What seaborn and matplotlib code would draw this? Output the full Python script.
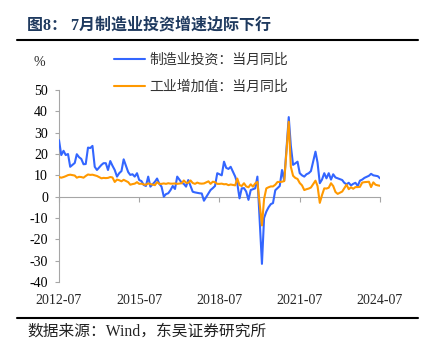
import numpy as np
import pandas as pd
import matplotlib
matplotlib.use("Agg")
import matplotlib.pyplot as plt
import seaborn as sns
from matplotlib.lines import Line2D

# ---------------- data (monthly YoY %, January not published) ----------------
invest_2012 = [26.5, 19.5, 21.5, 19.5, 20.0, 14.0]
invest_2013 = [15.8, 19.9, 18.5, 17.7, 15.2, 15.3, 23.0, 22.8, 23.8, 14.0, 12.5]
invest_2014 = [14.9, 15.7, 15.7, 12.5, 16.7, 14.5, 12.5, 9.4, 11.0, 12.0, 17.5]
invest_2015 = [11.5, 10.2, 10.5, 9.4, 11.0, 7.8, 7.3, 5.5, 5.0, 9.4, 4.7]
invest_2016 = [7.0, 8.5, 6.0, 4.7, 0.0, 1.2, 1.6, 3.1, 5.0, 3.6, 9.4]
invest_2017 = [6.5, 6.0, 4.7, 7.8, 5.0, 2.3, 2.0, 1.8, 1.6, 1.5, -1.9]
invest_2018 = [1.6, 3.1, 4.0, 5.0, 11.0, 10.5, 10.0, 16.4, 13.5, 13.0, 14.0]
invest_2019 = [9.4, 6.3, -0.8, 3.9, 4.0, 2.4, -1.5, 3.1, 3.5, 3.9, 9.4]
invest_2020 = [-31.5, -10.0, -7.0, -5.0, -3.5, -3.0, 3.0, 4.0, 5.0, 12.5, 7.5]
invest_2021 = [37.3, 24.0, 14.9, 15.6, 16.4, 11.0, 10.0, 9.4, 10.5, 11.0, 12.0]
invest_2022 = [21.1, 16.0, 6.3, 8.0, 11.0, 8.6, 11.0, 8.0, 10.5, 9.0, 8.6]
invest_2023 = [7.8, 6.5, 5.8, 6.5, 5.3, 6.0, 6.5, 5.0, 7.5, 8.0, 8.8]
invest_2024 = [9.8, 10.7, 10.0, 9.8, 9.6, 8.6]

iva_2012 = [9.2, 8.9, 9.2, 9.6, 10.1, 10.3]
iva_2013 = [9.9, 8.9, 9.3, 9.2, 8.9, 9.7, 10.4, 10.2, 10.3, 10.0, 9.7]
iva_2014 = [8.6, 8.8, 8.7, 8.8, 9.2, 9.0, 6.9, 8.0, 7.7, 7.2, 7.9]
iva_2015 = [6.8, 5.6, 5.9, 6.1, 6.8, 6.0, 6.1, 5.7, 5.6, 6.2, 5.9]
iva_2016 = [5.4, 6.8, 6.0, 6.0, 6.2, 6.0, 6.3, 6.1, 6.1, 6.2, 6.0]
iva_2017 = [6.3, 7.6, 6.5, 6.5, 7.6, 6.4, 6.0, 6.6, 6.2, 6.1, 6.2]
iva_2018 = [7.2, 6.0, 7.0, 6.8, 6.0, 6.0, 6.1, 5.8, 5.9, 5.4, 5.7]
iva_2019 = [5.3, 8.5, 5.4, 5.0, 6.3, 4.8, 4.4, 5.8, 4.7, 6.2, 6.9]
iva_2020 = [-13.5, -1.1, 3.9, 4.4, 4.8, 4.8, 5.6, 6.9, 6.9, 7.0, 7.3]
iva_2021 = [35.1, 14.1, 9.8, 8.8, 8.3, 6.4, 5.3, 3.1, 3.5, 3.8, 4.3]
iva_2022 = [7.5, 5.0, -2.9, 0.7, 3.9, 3.8, 4.2, 6.3, 5.0, 2.2, 1.3]
iva_2023 = [2.4, 3.9, 5.6, 3.5, 4.4, 3.7, 4.5, 4.5, 4.6, 6.6, 6.8]
iva_2024 = [7.0, 4.5, 6.7, 5.6, 5.3, 5.1]

series_names = ["制造业投资：当月同比", "工业增加值：当月同比"]
colors = ["#3366FF", "#FF9900"]
tick_labels = ["2012-07", "2015-07", "2018-07", "2021-07", "2024-07"]
yticks = list(range(-40, 51, 10))

invest = (invest_2012 + invest_2013 + invest_2014 + invest_2015 + invest_2016 +
          invest_2017 + invest_2018 + invest_2019 + invest_2020 + invest_2021 +
          invest_2022 + invest_2023 + invest_2024)
iva = (iva_2012 + iva_2013 + iva_2014 + iva_2015 + iva_2016 + iva_2017 +
       iva_2018 + iva_2019 + iva_2020 + iva_2021 + iva_2022 + iva_2023 + iva_2024)

dates = pd.date_range("2012-07-01", "2024-07-01", freq="MS")
dates = dates[dates.month != 1]

df = pd.concat([
    pd.DataFrame({"date": dates, "value": invest, "series": series_names[0]}),
    pd.DataFrame({"date": dates, "value": iva, "series": series_names[1]}),
], ignore_index=True)

# ---------------- figure ----------------
sns.set_style("white")
plt.rcParams["font.family"] = ["Liberation Serif", "Noto Sans CJK SC"]

W, H = 427, 346
fig = plt.figure(figsize=(W / 100, H / 100), dpi=100)
ax = fig.add_axes([59 / W, 1 - 282 / H, (380 - 59) / W, (282 - 90) / H])

sns.lineplot(data=df, x="date", y="value", hue="series", hue_order=series_names,
             palette=colors, linewidth=1.5, ax=ax, legend=False, zorder=3)

tick_dates = pd.to_datetime(tick_labels)
ax.set_xlim(pd.Timestamp("2012-07-01"), pd.Timestamp("2024-07-01"))
ax.set_ylim(-40, 50)
ax.set_yticks(yticks)
ax.set_yticklabels([str(v) for v in yticks], fontsize=10, family="Liberation Serif")
ax.set_xlabel("")
ax.set_ylabel("")

spine_color = "#A6A6A6"
for s in ["top", "right"]:
    ax.spines[s].set_visible(False)
ax.spines["left"].set_color(spine_color)
ax.spines["left"].set_linewidth(0.8)
ax.spines["left"].set_zorder(1)
ax.spines["bottom"].set_position(("data", 0))
ax.spines["bottom"].set_color(spine_color)
ax.spines["bottom"].set_linewidth(0.8)
ax.spines["bottom"].set_zorder(1)

ax.set_xticks(tick_dates)
ax.set_xticklabels([""] * len(tick_dates))
ax.tick_params(axis="x", direction="out", length=3.5, width=0.8, color=spine_color, bottom=True)
ax.tick_params(axis="y", direction="out", length=3, width=0.8, color=spine_color, left=True,
               pad=5, labelcolor="black")

sec = ax.secondary_xaxis("bottom")
sec.set_xticks(tick_dates)
sec.set_xticklabels(tick_labels, fontsize=10, family="Liberation Serif")
sec.tick_params(length=0, pad=9)
sec.spines["bottom"].set_visible(False)

# legend
handles = [Line2D([0], [0], color=c, lw=1.5) for c in colors]
fig.legend(handles, series_names, loc="upper left", bbox_to_anchor=(114 / W, 1 - 53 / H),
           frameon=False, borderpad=0, borderaxespad=0, handlelength=2.2,
           handletextpad=0.35, labelspacing=0.9,
           prop={"family": "Noto Sans CJK SC", "size": 10}, labelcolor="#333333")

# unit label
fig.text(39 / W, 1 - 63 / H, "%", ha="center", va="center", fontsize=10,
         family="Liberation Serif")

# title and rules
fig.text(27 / W, 1 - 25 / H, "图8： 7月制造业投资增速边际下行", ha="left", va="center",
         fontsize=11.5, fontweight="bold", color="#1F3A5F",
         family=["Liberation Serif", "Noto Sans CJK SC"])
fig.add_artist(Line2D([17 / W, 418 / W], [1 - 39.5 / H] * 2, color="black", lw=1.5))
fig.add_artist(Line2D([17 / W, 418 / W], [1 - 317.5 / H] * 2, color="black", lw=1.5))
fig.text(27 / W, 1 - 331.5 / H, "数据来源：Wind，东吴证券研究所", ha="left", va="center",
         fontsize=11.3, color="#222222", family=["Liberation Serif", "Noto Sans CJK SC"])

fig.savefig("out.png", dpi=100)
